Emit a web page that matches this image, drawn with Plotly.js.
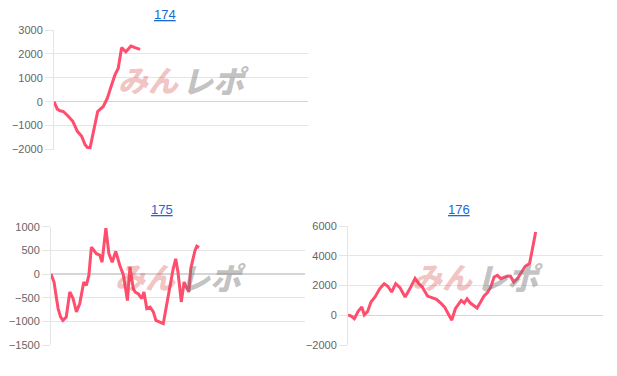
<!DOCTYPE html>
<html>
<head>
<meta charset="utf-8">
<script src="https://cdn.plot.ly/plotly-3.0.1.min.js"></script>
<style>html,body{margin:0;padding:0;background:#fff;}#chart{width:617px;height:376px;}</style>
</head>
<body>
<div id="chart"></div>
<script>
// Chart titles
const titles = ["174", "175", "176"];

// Series 174
const x174 = [0, 1.3, 2.4, 3.7, 5.6, 7.4, 9.2, 10.9, 12.2, 13.1, 14.2, 17.2, 19.4, 21.0, 22.7, 24.0, 25.3, 26.6, 28.3, 30.3, 31.9, 33.9];
const y174 = [0, -310, -380, -410, -610, -820, -1240, -1450, -1790, -1910, -1930, -410, -200, 150, 710, 1120, 1400, 2260, 2090, 2330, 2260, 2190];

// Series 175
const x175 = [0, 1.2, 2.1, 2.8, 3.8, 4.7, 6.0, 7.4, 8.7, 10.0, 11.3, 12.9, 13.9, 14.9, 15.9, 17.9, 19.2, 20.1, 21.6, 22.8, 24.1, 25.5, 27.1, 28.5, 30.1, 31.1, 32.4, 33.1, 34.4, 35.7, 36.6, 37.7, 39.0, 40.3, 41.3, 42.9, 44.2, 45.5, 46.8, 48.1, 49.1, 50.0, 51.3, 52.4, 53.6, 54.3, 55.0, 56.7, 57.4, 58.3];
const y175 = [0, -170, -490, -730, -910, -980, -910, -380, -520, -800, -630, -170, -240, -30, 570, 430, 400, 250, 970, 430, 250, 480, 180, -20, -560, 150, -310, -380, -420, -520, -380, -730, -700, -800, -980, -1010, -1050, -660, -240, 110, 320, 40, -590, -170, -310, -380, 110, 500, 590, 560];

// Series 176
const x176 = [0, 1.2, 2.5, 4.0, 5.4, 6.4, 7.7, 9.0, 10.6, 12.5, 14.2, 15.6, 17.1, 18.7, 20.4, 22.4, 24.3, 26.3, 27.8, 29.1, 31.2, 33.1, 34.7, 36.6, 38.0, 39.3, 40.7, 42.1, 43.2, 44.4, 45.6, 46.7, 48.0, 49.3, 50.6, 52.0, 53.3, 54.6, 56.0, 57.3, 58.6, 59.9, 61.3, 62.6, 63.7, 65.0, 66.6, 68.1, 69.5, 71.2, 72.5, 73.6];
const y176 = [30, -50, -230, 260, 550, 30, 260, 890, 1230, 1790, 2120, 1950, 1560, 2120, 1850, 1230, 1790, 2480, 2120, 1900, 1290, 1160, 1070, 780, 520, 100, -330, 440, 710, 1000, 820, 1110, 820, 660, 490, 890, 1290, 1510, 1900, 2570, 2690, 2460, 2570, 2640, 2620, 2230, 2500, 2950, 3290, 3470, 4590, 5600, 5650];

const lineColor = "#ff4d6d";
const gridColor = "rgba(0,0,0,0.1)";
const tickFont = {family: "Liberation Sans, Arial, sans-serif", size: 11, color: "#666"};

function trace(x, y, n) {
  return {x: x, y: y, type: "scatter", mode: "lines", xaxis: "x" + (n === 1 ? "" : n), yaxis: "y" + (n === 1 ? "" : n),
    line: {color: lineColor, width: 3}, hoverinfo: "skip", showlegend: false};
}

function xax(domain) {
  return {domain: domain, range: [0, 100], showgrid: false, zeroline: false, showticklabels: false, ticks: "", showline: false, fixedrange: true};
}
function yax(domain, range, dtick, anchor) {
  return {domain: domain, range: range, dtick: dtick, anchor: anchor, showgrid: true, gridcolor: gridColor, gridwidth: 1,
    zeroline: true, zerolinecolor: "rgba(0,0,0,0.16)", zerolinewidth: 1.5,
    showline: true, linecolor: gridColor, linewidth: 1,
    ticks: "outside", ticklen: 8, tickcolor: gridColor, tickwidth: 1,
    tickfont: tickFont, tickformat: "d", fixedrange: true};
}

const W = 617, H = 376;
const layout = {
  width: W, height: H,
  margin: {l: 0, r: 0, t: 0, b: 0},
  paper_bgcolor: "#fff", plot_bgcolor: "#fff",
  showlegend: false,
  xaxis: xax([54 / W, 308 / W]),
  yaxis: yax([1 - 149.5 / H, 1 - 30 / H], [-2000, 3000], 1000, "x"),
  xaxis2: xax([51 / W, 305 / W]),
  yaxis2: yax([1 - 345 / H, 1 - 226.7 / H], [-1500, 1000], 500, "x2"),
  xaxis3: xax([348 / W, 603 / W]),
  yaxis3: yax([1 - 345 / H, 1 - 226 / H], [-2000, 6000], 2000, "x3"),
  annotations: []
};

const titlePos = [[164.5, 15], [162, 210], [459, 210]];
titles.forEach((t, i) => {
  layout.annotations.push({text: "<u>" + t + "</u>", xref: "paper", yref: "paper",
    x: titlePos[i][0] / W, y: 1 - titlePos[i][1] / H, xanchor: "center", yanchor: "middle", showarrow: false,
    font: {family: "Liberation Sans, Arial, sans-serif", size: 13, color: "#1a6ad6"}});
});

// Watermark
const wm = [[148, 79], [145, 276], [442, 276]];
wm.forEach((p) => {
  layout.annotations.push({text: "<i>みん</i>", xref: "paper", yref: "paper",
    x: p[0] / W, y: 1 - p[1] / H, xanchor: "center", yanchor: "middle", showarrow: false,
    font: {family: "Noto Sans CJK JP", size: 30, weight: 900, color: "rgba(215,70,70,0.33)"}});
  layout.annotations.push({text: "<i>レポ</i>", xref: "paper", yref: "paper",
    x: (p[0] + 67) / W, y: 1 - p[1] / H, xanchor: "center", yanchor: "middle", showarrow: false,
    font: {family: "Noto Sans CJK JP", size: 31, weight: 900, color: "rgba(120,120,120,0.45)"}});
});

Plotly.newPlot("chart", [trace(x174, y174, 1), trace(x175, y175, 2), trace(x176, y176, 3)], layout, {displayModeBar: false, staticPlot: true});
</script>
</body>
</html>
